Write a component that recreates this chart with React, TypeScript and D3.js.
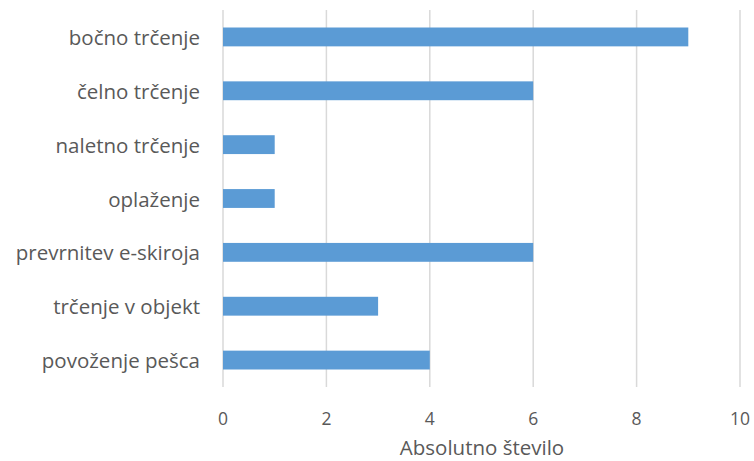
import React from "react";
import * as d3 from "d3";

const categories = [
  "bočno trčenje",
  "čelno trčenje",
  "naletno trčenje",
  "oplaženje",
  "prevrnitev e-skiroja",
  "trčenje v objekt",
  "povoženje pešca",
];
const values = [9, 6, 1, 1, 6, 3, 4];
const xTicks = [0, 2, 4, 6, 8, 10];
const xTitle = "Absolutno število";

const W = 754;
const H = 461;
const FONT = "'Open Sans', sans-serif";
const TEXT = "#595959";

export default function App() {
  const x = d3.scaleLinear().domain([0, 10]).range([223, 740]);
  const y = d3
    .scaleBand<string>()
    .domain(categories)
    .range([10, 387])
    .paddingInner(0.65)
    .paddingOuter(0.325);

  return (
    <svg
      width={W}
      height={H}
      style={{ position: "absolute", left: 0, top: 0, background: "#fff" }}
    >
      {xTicks.map((t) => (
        <line
          key={"g" + t}
          x1={x(t)}
          x2={x(t)}
          y1={10}
          y2={387}
          stroke="#d9d9d9"
          strokeWidth={1.5}
        />
      ))}
      {categories.map((c, i) => (
        <rect
          key={c}
          x={x(0)}
          y={y(c)}
          width={x(values[i]) - x(0)}
          height={y.bandwidth()}
          fill="#5B9BD5"
        />
      ))}
      {categories.map((c) => (
        <text
          key={"l" + c}
          x={200}
          y={(y(c) as number) + y.bandwidth() / 2}
          textAnchor="end"
          dominantBaseline="central"
          fontFamily={FONT}
          fontSize={20.5}
          fill={TEXT}
        >
          {c}
        </text>
      ))}
      {xTicks.map((t) => (
        <text
          key={"t" + t}
          x={x(t)}
          y={418}
          textAnchor="middle"
          dominantBaseline="central"
          fontFamily={FONT}
          fontSize={17.5}
          fill={TEXT}
        >
          {t}
        </text>
      ))}
      <text
        x={482}
        y={447}
        textAnchor="middle"
        dominantBaseline="central"
        fontFamily={FONT}
        fontSize={20.5}
        fill={TEXT}
      >
        {xTitle}
      </text>
    </svg>
  );
}
